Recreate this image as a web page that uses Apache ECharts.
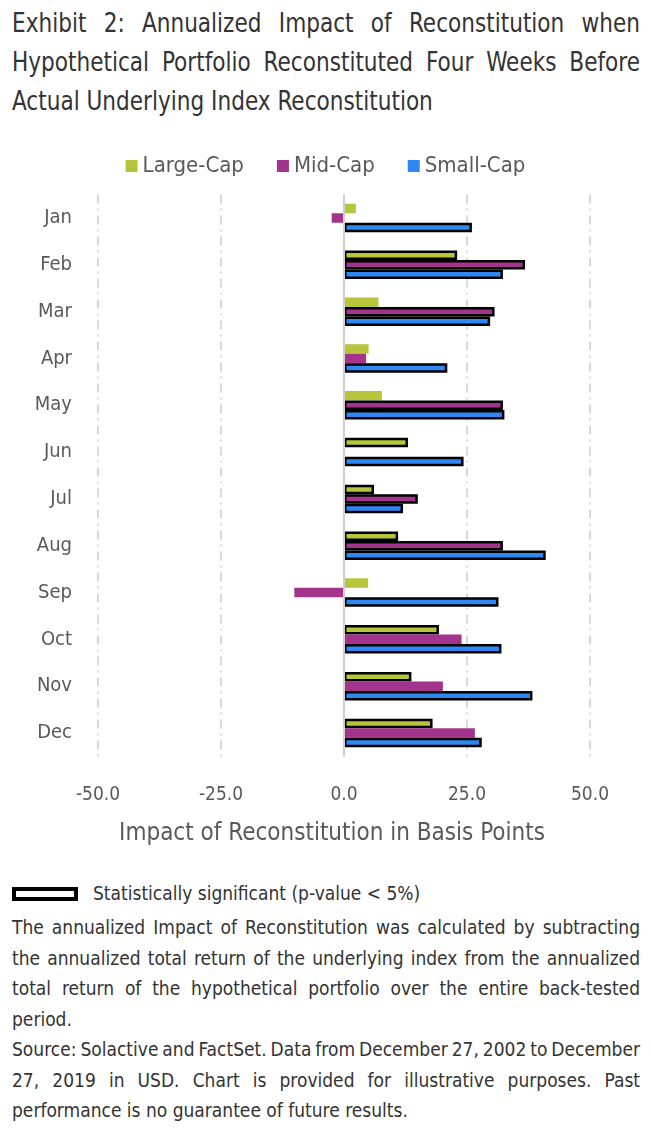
<!DOCTYPE html>
<html>
<head>
<meta charset="utf-8">
<script src="https://cdn.jsdelivr.net/npm/echarts@6/dist/echarts.min.js"></script>
<style>
  html, body { margin: 0; padding: 0; background: #fff; }
  body { width: 651px; height: 1135px; position: relative; overflow: hidden;
         font-family: "DejaVu Sans Condensed", "DejaVu Sans", sans-serif; font-stretch: condensed; }
  .jl { text-align: justify; text-align-last: justify; white-space: nowrap; }
  .ll { text-align: left; white-space: nowrap; }
  #title { position: absolute; left: 12px; top: 3px; width: 705.6px; font-size: 27px; line-height: 39px; color: #333;
           transform: scaleX(0.89); transform-origin: 0 0; }
  #chart { position: absolute; left: 0; top: 140px; width: 651px; height: 720px; }
  #sigbox { position: absolute; left: 12px; top: 887px; width: 58px; height: 6px; border: 4px solid #000; background: #fff; }
  #siglabel { position: absolute; left: 93px; top: 879px; font-size: 19px; line-height: 28px; color: #333; }
  #foot { position: absolute; left: 12px; top: 912px; width: 628px; font-size: 19px; line-height: 30.5px; color: #333; }
  .tight { word-spacing: -3px; }
</style>
</head>
<body>
<div id="title">
  <div class="jl">Exhibit 2: Annualized Impact of Reconstitution when</div>
  <div class="jl">Hypothetical Portfolio Reconstituted Four Weeks Before</div>
  <div class="ll">Actual Underlying Index Reconstitution</div>
</div>
<div id="chart"></div>
<div id="sigbox"></div>
<div id="siglabel">Statistically significant (p-value &lt; 5%)</div>
<div id="foot">
  <div class="jl">The annualized Impact of Reconstitution was calculated by subtracting</div>
  <div class="jl">the annualized total return of the underlying index from the annualized</div>
  <div class="jl">total return of the hypothetical portfolio over the entire back-tested</div>
  <div class="ll">period.</div>
  <div class="jl tight">Source: Solactive and FactSet. Data from December 27, 2002 to December</div>
  <div class="jl">27, 2019 in USD. Chart is provided for illustrative purposes. Past</div>
  <div class="ll">performance is no guarantee of future results.</div>
</div>
<script>
const months = ['Jan','Feb','Mar','Apr','May','Jun','Jul','Aug','Sep','Oct','Nov','Dec'];
const largeCap = [2.4, 23.0, 7.0, 5.0, 7.7, 13.0, 6.1, 11.0, 4.9, 19.3, 13.7, 18.0];
const midCap   = [-2.5, 36.8, 30.6, 4.5, 32.3, 0, 15.0, 32.3, -10.1, 23.9, 20.1, 26.6];
const smallCap = [26.0, 32.3, 29.7, 21.0, 32.6, 24.3, 12.0, 41.0, 31.4, 32.0, 38.3, 28.0];
// 1 = statistically significant (p-value < 5%)
const largeSig = [0,1,0,0,0,1,1,1,0,1,1,1];
const midSig   = [0,1,1,0,1,0,1,1,0,0,0,0];
const smallSig = [1,1,1,1,1,1,1,1,1,1,1,1];
const xTicks = [-50, -25, 0, 25, 50];

const FONT = '"DejaVu Sans Condensed", "DejaVu Sans", sans-serif';
const chart = echarts.init(document.getElementById('chart'), null, { renderer: 'canvas' });

function withSig(vals, sig) {
  return vals.map((v, i) => sig[i]
    ? { value: v, itemStyle: { borderColor: '#000', borderWidth: 2.5 } }
    : { value: v });
}
function barSeries(name, color, vals, sig, extra) {
  return Object.assign({
    name, type: 'bar', data: withSig(vals, sig),
    barWidth: 9.5, barGap: '0%',
    itemStyle: { color },
    emphasis: { disabled: true },
    animation: false
  }, extra || {});
}

chart.setOption({
  animation: false,
  textStyle: { fontFamily: FONT },
  legend: {
    top: 10, left: 'center',
    icon: 'rect', itemWidth: 12, itemHeight: 12, itemGap: 33,
    textStyle: { fontSize: 22, color: '#595959', fontFamily: FONT },
    data: ['Large-Cap', 'Mid-Cap', 'Small-Cap']
  },
  grid: { left: 98, right: 61, top: 54.6, bottom: 103.6, containLabel: false },
  xAxis: {
    type: 'value', min: -50, max: 50, interval: 25,
    name: 'Impact of Reconstitution in Basis Points',
    nameLocation: 'middle', nameGap: 65,
    nameTextStyle: { fontSize: 24, color: '#595959', fontFamily: FONT, padding: [0, 24, 0, 0] },
    axisLine: { show: false }, axisTick: { show: false },
    axisLabel: { margin: 29, fontSize: 19, color: '#595959', fontFamily: FONT,
                 formatter: v => xTicks.includes(v) ? v.toFixed(1) : '' },
    splitLine: { show: true, lineStyle: { color: '#d9d9d9', width: 2, type: [9, 5, 2, 5] } }
  },
  yAxis: {
    type: 'category', data: months, inverse: true,
    axisLine: { show: false }, axisTick: { show: false },
    axisLabel: { margin: 26, fontSize: 20, color: '#595959', fontFamily: FONT },
    splitLine: { show: false }
  },
  series: [
    barSeries('Large-Cap', '#b6c53a', largeCap, largeSig, {
      markLine: {
        silent: true, symbol: 'none', label: { show: false },
        lineStyle: { color: '#d0d0d0', width: 2, type: 'solid' },
        data: [{ xAxis: 0 }]
      }
    }),
    barSeries('Mid-Cap', '#a2348b', midCap, midSig),
    barSeries('Small-Cap', '#2f87f3', smallCap, smallSig)
  ]
});
</script>
</body>
</html>
